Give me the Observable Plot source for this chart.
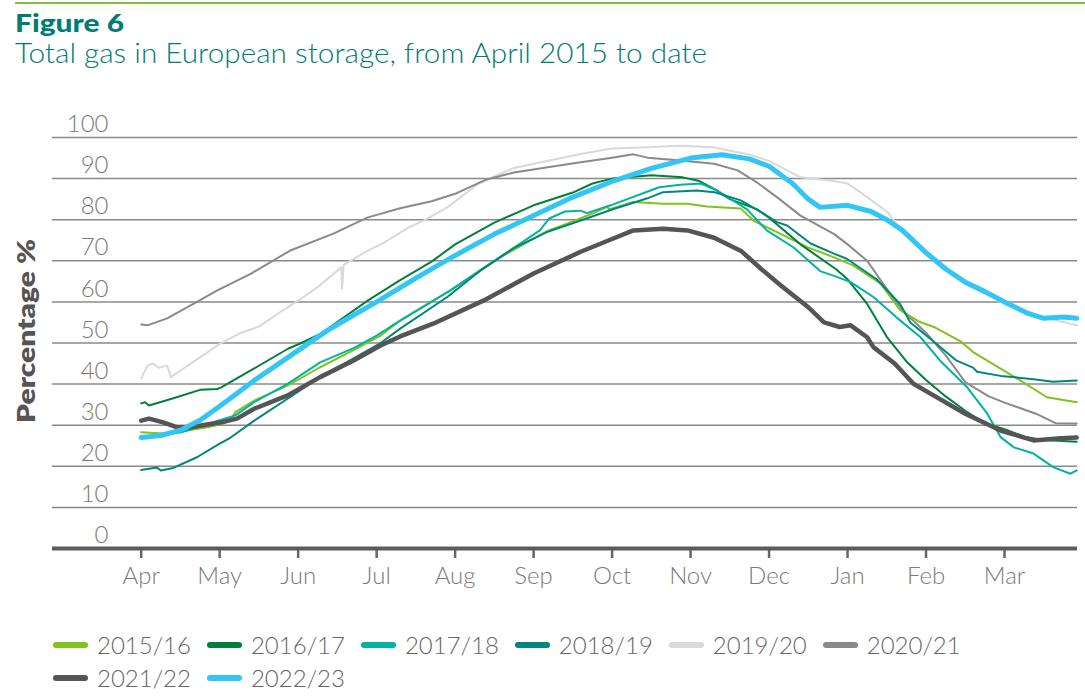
<!DOCTYPE html>
<html><head><meta charset="utf-8">
<script src="https://cdn.jsdelivr.net/npm/d3@7"></script>
<script src="https://cdn.jsdelivr.net/npm/@observablehq/plot@0.6"></script>
<style>
body{margin:0;background:#fff;font-family:Lato,"Open Sans",sans-serif;}
#wrap{position:relative;width:1085px;height:700px;overflow:hidden;background:#fff;}
#topline{position:absolute;left:15px;right:0;top:2px;height:2px;background:#7dc242;}
#title{position:absolute;left:15px;top:10px;font-size:25.5px;line-height:1;font-weight:900;color:#007d72;white-space:nowrap;transform-origin:0 0;}
#subtitle{position:absolute;left:15px;top:39px;font-size:27px;line-height:1;font-weight:300;color:#007d72;white-space:nowrap;transform-origin:0 0;}
#chart{position:absolute;left:0;top:97px;}
#chart svg text{font-weight:300;}
#legend{position:absolute;left:53px;top:628px;width:1000px;display:flex;flex-wrap:wrap;}
.item{display:flex;align-items:center;height:33px;margin-right:16px;}
.sw{width:35px;height:6px;border-radius:3px;margin-right:9px;}
.lab{font-size:24px;font-weight:300;color:#666;line-height:1;}
</style></head>
<body>
<div id="wrap">
  <div id="topline"></div>
  <div id="title">Figure 6</div>
  <div id="subtitle">Total gas in European storage, from April 2015 to date</div>
  <div id="chart"></div>
  <div id="legend"></div>
</div>
<script>
// x = months since 1 April (0 = Apr, 11 = Mar); y = % of storage full
const monthLabels = ["Apr","May","Jun","Jul","Aug","Sep","Oct","Nov","Dec","Jan","Feb","Mar"];
const yTicks = [0,10,20,30,40,50,60,70,80,90,100];
const seasons = ["2015/16","2016/17","2017/18","2018/19","2019/20","2020/21","2021/22","2022/23"];
const colors = ["#80c31c","#00803c","#00b3a3","#00877d","#d9d9d9","#8a8a8a","#555555","#33c6f4"];

const s2015 = [[0,28.3],[0.28,28],[0.59,28.7],[0.84,29.5],[1.02,30.2],[1.14,31.1],[1.2,33.2],[1.44,36],[1.87,39.7],[2.28,44.1],[2.7,48.2],[3.05,51.8],[3.3,55.5],[3.94,62.8],[4.58,70.9],[5.17,77.2],[5.5,79.6],[5.75,81.5],[5.94,83.2],[5.96,82.5],[6.27,84.3],[6.65,83.9],[6.96,83.9],[7.21,83.2],[7.64,82.7],[7.8,79.8],[8.14,76.6],[8.5,73.2],[8.82,70.9],[9.07,68.9],[9.42,64.5],[9.67,58],[9.9,55.3],[10.1,53.9],[10.44,50.4],[10.6,47.8],[10.86,44.8],[11.2,40.9],[11.54,36.8],[11.92,35.6]];
const s2016 = [[0,35.3],[0.05,35.6],[0.1,34.8],[0.4,36.5],[0.75,38.6],[0.97,38.8],[1.02,39.2],[1.44,43.8],[1.87,48.6],[2.04,50],[2.29,52.3],[2.9,60.5],[3.3,65.3],[3.7,69.8],[4,74],[4.5,79.3],[5,83.5],[5.5,86.6],[5.75,88.8],[6,90],[6.5,90.8],[6.9,90.3],[7.1,89.5],[7.3,87.5],[7.5,85],[7.85,82.5],[8,80.5],[8.4,74],[8.85,68],[9,65.5],[9.25,59.5],[9.5,51.5],[9.75,45.5],[10,41],[10.25,37],[10.5,33.5],[10.75,30.5],[11,29],[11.25,27.2],[11.5,26.4],[11.92,26]];
const s2017 = [[0,27.2],[0.5,28.2],[1,31.2],[1.2,32.4],[1.44,35.6],[1.87,40.1],[2.28,45.3],[2.7,48.7],[3,51.8],[3.17,53.9],[3.94,62.8],[4.58,71],[5.08,77.4],[5.2,80.3],[5.4,82],[5.6,82.2],[5.68,81.6],[5.98,83.5],[6.6,87.9],[6.87,88.5],[7.13,88.8],[7.34,87.1],[7.72,82.5],[7.97,77.4],[8.31,73.3],[8.65,67.5],[8.82,66.4],[9.04,64.8],[9.33,61.2],[9.67,55.5],[9.93,51.4],[10.18,45.7],[10.52,39.3],[10.78,32.8],[10.95,27.1],[11.12,24.6],[11.37,23.1],[11.62,19.8],[11.84,18.2],[11.92,19]];
const s2018 = [[0,19.1],[0.2,19.7],[0.25,19],[0.41,19.6],[0.71,22.2],[1,25.5],[1.14,27],[1.44,31.1],[1.87,36.5],[2.28,41.7],[2.7,46.2],[3.05,50],[3.3,53.5],[3.9,61.2],[4.32,67.6],[4.74,73],[5.17,77],[5.6,79.8],[6.02,82.6],[6.45,85.2],[6.65,86.7],[7.08,87.1],[7.3,86.7],[7.64,84.7],[7.93,81.5],[8.1,79.4],[8.23,78.6],[8.53,74.2],[8.82,71.8],[8.99,70.5],[9.37,65.5],[9.67,59.5],[9.8,55],[10.1,50.3],[10.39,45.7],[10.6,44],[10.65,43],[10.95,42],[11.37,41.2],[11.62,40.6],[11.92,40.9]];
const s2019 = [[0,41.4],[0.08,44.5],[0.15,45],[0.22,44],[0.33,44.5],[0.38,41.7],[0.5,43.3],[0.75,46.5],[1,49.8],[1.25,52.3],[1.5,54],[1.8,57.9],[2,60.3],[2.25,63.6],[2.55,68.4],[2.56,63.2],[2.58,69],[2.87,72.3],[3.1,74.5],[3.4,78],[3.6,79.8],[3.9,83],[4.3,88.8],[4.75,92.6],[5.2,94.4],[5.6,96],[6,97.3],[6.45,97.6],[6.87,98],[7.3,97.6],[7.5,96.8],[7.72,96],[8,94.3],[8.4,90.3],[8.8,89.5],[9,88.8],[9.25,85.5],[9.5,82],[9.75,76],[10,71.5],[10.5,64.5],[10.75,62],[11,59.5],[11.3,57],[11.5,56.2],[11.92,54.3]];
const s2020 = [[0,54.5],[0.08,54.3],[0.33,56],[0.67,59.6],[0.97,62.8],[1.4,66.9],[1.9,72.5],[2.45,76.6],[2.88,80.5],[3.3,82.8],[3.7,84.5],[4,86.3],[4.4,89.8],[4.75,91.5],[5.2,92.8],[5.6,94],[6,95.1],[6.27,95.9],[6.45,95.1],[6.87,94.4],[7.3,93.6],[7.6,92],[7.85,89],[8.1,85.5],[8.4,81],[8.83,76.5],[9,74],[9.25,70],[9.45,64.5],[9.7,57.9],[10,52.5],[10.25,47],[10.5,40.5],[10.8,37],[11,35.5],[11.4,32.8],[11.65,30.5],[11.92,30.4]];
const s2021 = [[0,31.1],[0.1,31.6],[0.28,30.7],[0.46,29.5],[0.63,29.5],[0.92,30.4],[1.02,30.7],[1.22,31.6],[1.44,34],[1.86,37.2],[2.28,41.7],[2.7,45.7],[3.05,49.4],[3.3,51.6],[3.72,54.7],[4.36,60.3],[5,66.9],[5.6,72.2],[6,75.3],[6.27,77.4],[6.65,77.8],[6.96,77.4],[7.3,75.6],[7.65,72.3],[7.9,68],[8.15,64],[8.5,58.7],[8.7,55],[8.9,53.9],[9.04,54.3],[9.25,51.4],[9.33,49],[9.6,45],[9.84,40.1],[10.1,37.2],[10.5,32.8],[10.95,28.7],[11.37,26.3],[11.72,26.8],[11.92,27]];
const s2022 = [[0,27],[0.25,27.5],[0.5,28.8],[0.75,31.2],[1,34.6],[1.44,40.9],[1.87,46.5],[2.37,53],[2.5,54.5],[3,60],[3.5,65.8],[4,71.3],[4.5,76.5],[5,81],[5.5,85.5],[6,89.3],[6.5,92.5],[7,95],[7.4,95.8],[7.75,94.8],[8,93],[8.3,88.8],[8.5,85],[8.65,83],[9,83.5],[9.3,82],[9.5,80],[9.7,77.4],[10,72],[10.25,68],[10.5,64.8],[10.75,62.5],[11,60],[11.3,57.2],[11.5,56],[11.75,56.3],[11.92,56]];

const seriesData = [s2015, s2016, s2017, s2018, s2019, s2020, s2021, s2022];
const widths = [2, 2, 2, 2, 2, 2, 4.5, 5];
const drawOrder = [4, 5, 0, 1, 2, 3, 6, 7];

const lineMarks = drawOrder.map(i => Plot.line(seriesData[i], {
  x: d => d[0], y: d => d[1], stroke: colors[i], strokeWidth: widths[i],
  strokeLinejoin: "round", strokeLinecap: "round"
}));

const chart = Plot.plot({
  width: 1085, height: 501,
  marginTop: 40, marginBottom: 50, marginLeft: 52, marginRight: 8,
  style: "font-family: Lato, 'Open Sans', sans-serif; font-size: 24px; background: white; overflow: visible;",
  x: {domain: [-1.13, 11.93]},
  y: {domain: [0, 100]},
  marks: [
    Plot.gridY(yTicks.filter(t => t > 0), {stroke: "#8a8a8a", strokeOpacity: 1, strokeWidth: 1.5}),
    Plot.axisY(yTicks, {anchor: "left", tickSize: 0, tickPadding: 0, dx: 56, dy: -13, fontSize: 24, fill: "#7a7a7a", label: null}),
    Plot.axisX(d3.range(12), {anchor: "bottom", tickSize: 10, tickPadding: 8, tickFormat: i => monthLabels[i], fontSize: 24, fill: "#7a7a7a", stroke: "#666", strokeWidth: 2.5, label: null}),
    Plot.text(["Percentage %"], {frameAnchor: "left", textAnchor: "middle", dx: -25, dy: -12, rotate: -90, fontSize: 24, fontWeight: 800, fill: "#555", className: "ylab"}),
    ...lineMarks,
    Plot.ruleY([0], {stroke: "#5c5c5c", strokeWidth: 4})
  ]
});
document.getElementById("chart").appendChild(chart);

// y label: bold, stretched along its length to the reference width
chart.querySelectorAll(".ylab text").forEach(t => {
  t.style.fontWeight = "800";
  t.setAttribute("text-anchor", "middle");
  const len = t.getComputedTextLength();
  const k = 184 / len;
  t.setAttribute("transform", (t.getAttribute("transform") || "") + ` scale(${k},1)`);
});

// legend
const legend = document.getElementById("legend");
seasons.forEach((s, i) => {
  const it = document.createElement("div"); it.className = "item";
  const sw = document.createElement("div"); sw.className = "sw"; sw.style.background = colors[i];
  const lb = document.createElement("div"); lb.className = "lab"; lb.textContent = s;
  it.appendChild(sw); it.appendChild(lb); legend.appendChild(it);
});

// stretch header texts horizontally to the reference widths
function fit(el, target) {
  const w = el.getBoundingClientRect().width;
  el.style.transform = `scaleX(${target / w})`;
}
fit(document.getElementById("title"), 109);
fit(document.getElementById("subtitle"), 692);
</script>
</body></html>
